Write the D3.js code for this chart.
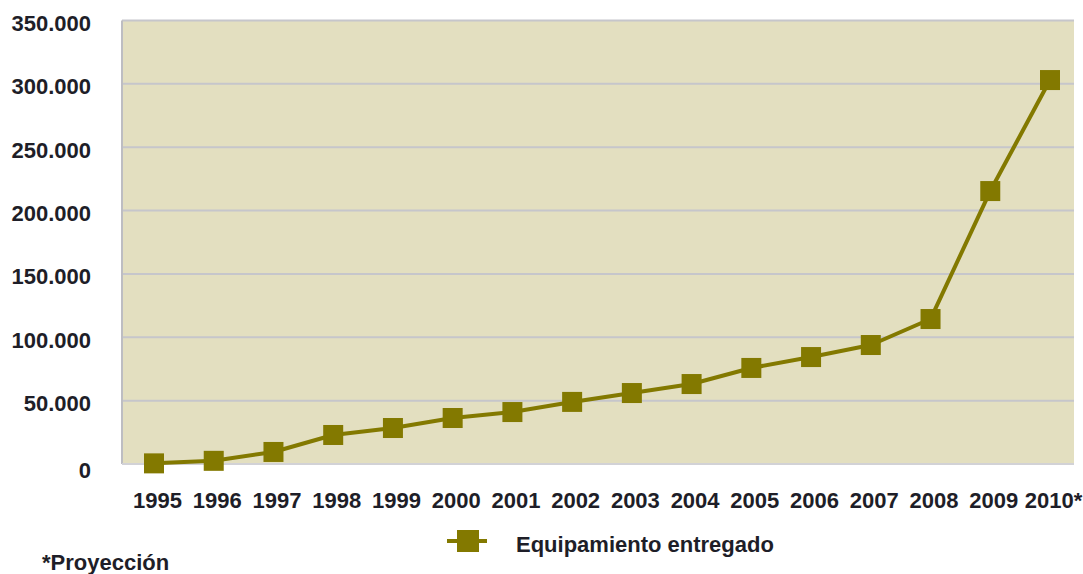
<!DOCTYPE html>
<html>
<head>
<meta charset="utf-8">
<script src="https://cdn.jsdelivr.net/npm/d3@7"></script>
<style>
  html, body { margin: 0; padding: 0; background: #fff; }
  svg { display: block; }
  text { font-family: "Liberation Sans", Arial, sans-serif; font-weight: bold; fill: #1e1e28; }
</style>
</head>
<body>
<svg id="chart" width="1083" height="574"></svg>
<script>
// Equipment delivered per year (2010 is a projection)
const years = ["1995","1996","1997","1998","1999","2000","2001","2002","2003","2004","2005","2006","2007","2008","2009","2010*"];
const delivered = [500, 2500, 9500, 22900, 28400, 36300, 41000, 49000, 56000, 63100, 75800, 84400, 93900, 114400, 215400, 303000];
const yTicks = [0, 50000, 100000, 150000, 200000, 250000, 300000, 350000];
const seriesName = "Equipamiento entregado";
const footnote = "*Proyección";

const svg = d3.select("#chart");
const plot = { left: 122, right: 1074, top: 20.5, bottom: 464 };
const fontSize = 22;

const esLocale = d3.formatLocale({ decimal: ",", thousands: ".", grouping: [3], currency: ["", " €"] });
const fmt = esLocale.format(",d");

const y = d3.scaleLinear().domain([0, 350000]).range([plot.bottom, plot.top]);
const x = d3.scalePoint().domain(years).range([154, 1050]);

const olive = "#837900";

// plot background
svg.append("rect")
  .attr("x", plot.left).attr("y", plot.top)
  .attr("width", plot.right - plot.left).attr("height", plot.bottom - plot.top)
  .attr("fill", "#e3dfc0");

// horizontal gridlines
svg.append("g").selectAll("line")
  .data(yTicks.filter(d => d > 0))
  .join("line")
  .attr("x1", plot.left).attr("x2", plot.right)
  .attr("y1", d => y(d)).attr("y2", d => y(d))
  .attr("stroke", "#c6c6cb").attr("stroke-width", 2);

// frame: left edge and baseline
svg.append("line")
  .attr("x1", plot.left).attr("x2", plot.left)
  .attr("y1", plot.top).attr("y2", plot.bottom)
  .attr("stroke", "#bdbdc2").attr("stroke-width", 2);
svg.append("line")
  .attr("x1", plot.left).attr("x2", plot.right)
  .attr("y1", plot.bottom).attr("y2", plot.bottom)
  .attr("stroke", "#d2d2d6").attr("stroke-width", 2);

// y axis labels
const yAxis = d3.axisLeft(y).tickValues(yTicks).tickFormat(fmt).tickSize(0).tickPadding(0);
const gy = svg.append("g").attr("transform", "translate(91,0)").call(yAxis);
gy.select(".domain").remove();
gy.selectAll("text")
  .attr("font-size", fontSize)
  .attr("dy", d => d === 0 ? "0.62em" : "0.45em")
  .style("font-family", "'Liberation Sans', Arial, sans-serif")
  .style("font-weight", "bold")
  .attr("fill", "#1e1e28");

// x axis labels
const xAxis = d3.axisBottom(x).tickSize(0).tickPadding(0);
const gx = svg.append("g").attr("transform", "translate(3,492)").call(xAxis);
gx.select(".domain").remove();
gx.selectAll("text")
  .attr("font-size", fontSize)
  .attr("dy", "0.71em")
  .style("font-family", "'Liberation Sans', Arial, sans-serif")
  .style("font-weight", "bold")
  .attr("fill", "#1e1e28");

// series line
const line = d3.line().x((d, i) => x(years[i])).y(d => y(d));
svg.append("path")
  .datum(delivered)
  .attr("d", line)
  .attr("fill", "none")
  .attr("stroke", olive)
  .attr("stroke-width", 4)
  .attr("stroke-linejoin", "round");

// square markers
const ms = 20;
svg.append("g").selectAll("rect")
  .data(delivered)
  .join("rect")
  .attr("x", (d, i) => x(years[i]) - ms / 2)
  .attr("y", d => y(d) - ms / 2)
  .attr("width", ms).attr("height", ms)
  .attr("fill", olive);

// legend
const lg = svg.append("g").attr("transform", "translate(0,541)");
lg.append("line").attr("x1", 447).attr("x2", 487).attr("y1", 0).attr("y2", 0)
  .attr("stroke", olive).attr("stroke-width", 4);
lg.append("rect").attr("x", 457).attr("y", -11).attr("width", 22).attr("height", 22).attr("fill", olive);
lg.append("text").attr("x", 516).attr("y", 11).attr("font-size", fontSize).text(seriesName);

// footnote
svg.append("text").attr("x", 42).attr("y", 570).attr("font-size", fontSize).text(footnote);
</script>
</body>
</html>
